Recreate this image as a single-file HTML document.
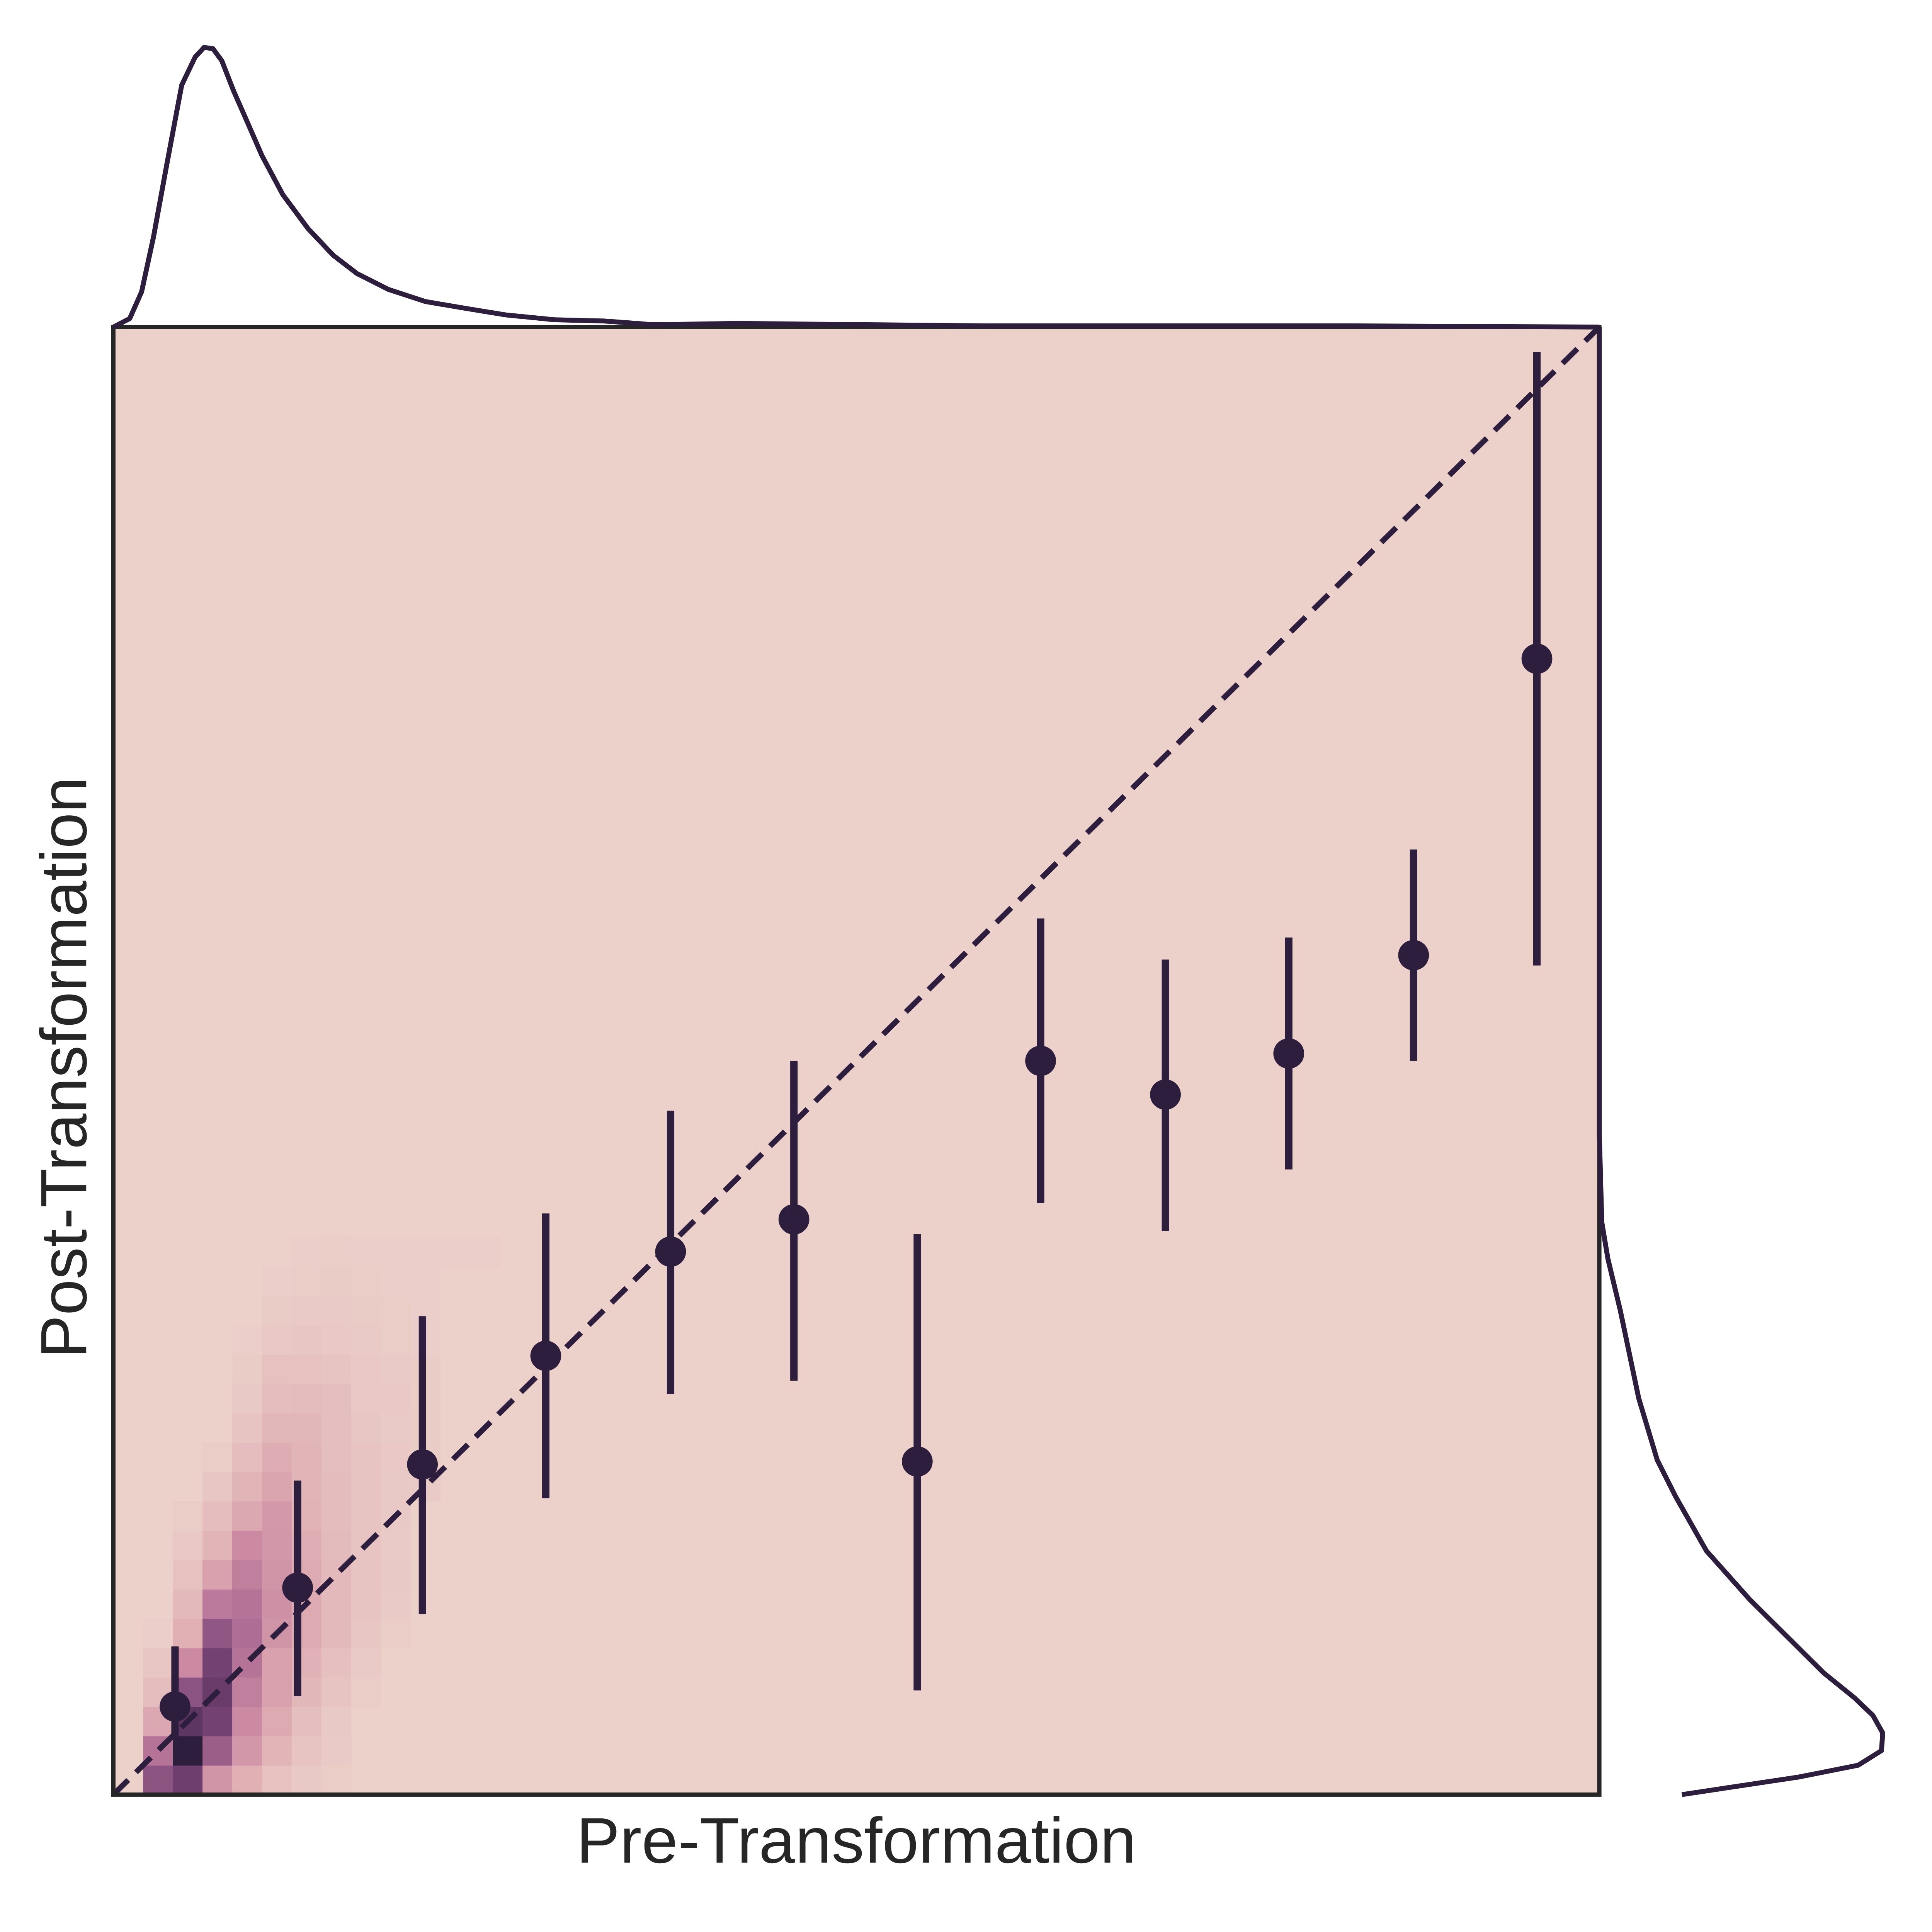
<!DOCTYPE html>
<html><head><meta charset="utf-8"><style>html,body{margin:0;padding:0;background:#fff;width:100vw;height:100vh;overflow:hidden}svg{display:block;width:100vw;height:100vh}</style></head>
<body>
<svg id="chart" viewBox="0 0 1568 1589" preserveAspectRatio="none" xmlns="http://www.w3.org/2000/svg">
<g id="heat"></g>
<line x1="92" y1="1476" x2="1298" y2="269" stroke="#2d1e3e" stroke-width="4.5" stroke-dasharray="17,9"/>
<g id="errs"></g>
<rect x="92" y="269" width="1206" height="1207" fill="none" stroke="#262626" stroke-width="3.5"/>
<path id="topkde" fill="none" stroke="#2d1e3e" stroke-width="4" stroke-linejoin="round"/>
<path id="rightkde" fill="none" stroke="#2d1e3e" stroke-width="4" stroke-linejoin="round"/>
<text x="695" y="1532" text-anchor="middle" font-family="Liberation Sans, sans-serif" font-size="53" fill="#262626">Pre-Transformation</text>
<text transform="translate(70,878) rotate(-90)" text-anchor="middle" font-family="Liberation Sans, sans-serif" font-size="53" fill="#262626">Post-Transformation</text>
</svg>
<script>
const binX = [0.0415,0.124,0.208,0.291,0.375,0.458,0.541,0.624,0.708,0.791,0.875,0.958];
const meanY = [0.060,0.141,0.225,0.299,0.370,0.392,0.227,0.500,0.477,0.505,0.572,0.774];
const upperY = [0.101,0.214,0.326,0.396,0.466,0.500,0.382,0.597,0.569,0.584,0.644,0.983];
const lowerY = [0.038,0.067,0.123,0.202,0.273,0.282,0.071,0.403,0.384,0.426,0.500,0.565];
const heatRows = [
[0,0.7,0.8,0.4,0.25,0.12,0.06,0.03],
[0,0.55,1.0,0.65,0.38,0.22,0.1,0.05],
[0,0.3,0.85,0.78,0.45,0.28,0.14,0.06],
[0,0.15,0.7,0.82,0.5,0.33,0.2,0.1,0.03],
[0,0.08,0.45,0.78,0.55,0.33,0.24,0.13,0.05],
[0,0.02,0.25,0.68,0.58,0.4,0.28,0.18,0.08,0.03],
[0,0,0.18,0.52,0.55,0.42,0.28,0.18,0.1,0.05],
[0,0,0.12,0.33,0.5,0.4,0.28,0.18,0.1,0.06],
[0,0,0.07,0.22,0.45,0.38,0.26,0.17,0.1,0.05],
[0,0,0.03,0.15,0.3,0.37,0.23,0.16,0.1,0.06],
[0,0,0,0.08,0.22,0.31,0.22,0.16,0.1,0.06,0.05],
[0,0,0,0.03,0.15,0.27,0.22,0.14,0.1,0.07,0.03],
[0,0,0,0,0.1,0.2,0.2,0.14,0.08,0.05,0.03],
[0,0,0,0,0.06,0.15,0.16,0.14,0.07,0.07,0.03],
[0,0,0,0,0.04,0.12,0.12,0.1,0.07,0.05,0.03],
[0,0,0,0,0.02,0.07,0.08,0.07,0.05,0.03,0.02],
[0,0,0,0,0,0.04,0.05,0.05,0.04,0.03,0.02],
[0,0,0,0,0,0.02,0.03,0.04,0.03,0.02,0.02],
[0,0,0,0,0,0,0.02,0.03,0.02,0.02,0.02,0.02,0.02]
];
const topPosX = [0,0.011,0.019,0.027,0.036,0.046,0.055,0.061,0.067,0.073,0.081,0.09,0.1,0.114,0.131,0.148,0.164,0.185,0.21,0.234,0.264,0.297,0.33,0.363,0.421,0.504,0.587,0.67,0.753,0.836,1];
const topDens = [0,7,29,74,134,199,222,230,229,219,194,169,141,109,81,59,44,31,21,16,10,6,5,2,3,2,1,1,1,1,0];
const rightPosY = [1,0.45,0.39,0.365,0.33,0.27,0.228,0.203,0.166,0.133,0.108,0.083,0.066,0.054,0.042,0.03,0.02,0.012,0];
const rightDens = [0,0,2,7,17,32,47,62,87,122,152,182,207,222,230,229,210,162,67];

const X0=92,X1=1298,Y0=1476,Y1=269;
const sx=v=>X0+v*(X1-X0), sy=v=>Y0-v*(Y0-Y1);
const NS='http://www.w3.org/2000/svg';
const stops=[[0,[236,209,203]],[0.25,[224,176,181]],[0.45,[203,138,162]],[0.6,[168,104,146]],[0.8,[110,62,110]],[1,[45,30,62]]];
function col(v){for(let i=1;i<stops.length;i++){if(v<=stops[i][0]){const a=stops[i-1],b=stops[i];const t=(v-a[0])/(b[0]-a[0]);return 'rgb('+a[1].map((c,k)=>Math.round(c+(b[1][k]-c)*t)).join(',')+')';}}return 'rgb(45,30,62)';}
const heat=document.getElementById('heat');
const bg=document.createElementNS(NS,'rect');


bg.setAttribute('x',X0);bg.setAttribute('y',Y1);bg.setAttribute('width',X1-X0);bg.setAttribute('height',Y0-Y1);bg.setAttribute('fill',col(0));
heat.appendChild(bg);
const N=50;
heatRows.forEach((row,r)=>row.forEach((v,c)=>{if(v<=0)return;
const e=document.createElementNS(NS,'rect');


const xa=sx(c/N),xb=sx((c+1)/N),ya=sy((r+1)/N),yb=sy(r/N);
e.setAttribute('x',xa);e.setAttribute('y',ya);e.setAttribute('width',xb-xa+0.3);e.setAttribute('height',yb-ya+0.3);e.setAttribute('fill',col(v));heat.appendChild(e);}));
const errs=document.getElementById('errs');
binX.forEach((x,i)=>{
const l=document.createElementNS(NS,'line');


l.setAttribute('x1',sx(x));l.setAttribute('x2',sx(x));l.setAttribute('y1',sy(lowerY[i]));l.setAttribute('y2',sy(upperY[i]));l.setAttribute('stroke','#2d1e3e');l.setAttribute('stroke-width','6');errs.appendChild(l);
const c=document.createElementNS(NS,'circle');


c.setAttribute('cx',sx(x));c.setAttribute('cy',sy(meanY[i]));c.setAttribute('r','12.5');c.setAttribute('fill','#2d1e3e');errs.appendChild(c);});
document.getElementById('topkde').setAttribute('d',topPosX.map((x,i)=>(i?'L':'M')+sx(x)+','+(269-topDens[i])).join(''));
document.getElementById('rightkde').setAttribute('d',rightPosY.map((y,i)=>(i?'L':'M')+(1298+rightDens[i])+','+sy(y)).join(''));
</script>
</body></html>
